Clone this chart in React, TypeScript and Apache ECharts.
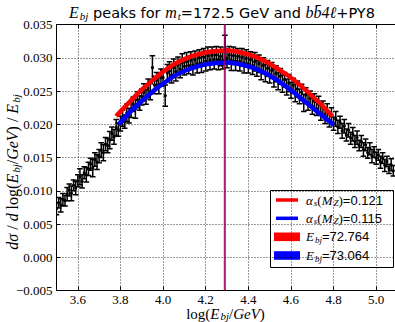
import React, { useEffect, useRef } from "react";
import * as echarts from "echarts";

// bin centres of log(E_bj/GeV)
const binCenters = [
  3.50, 3.51, 3.52, 3.53, 3.54, 3.55, 3.56, 3.57, 3.58, 3.59,
  3.60, 3.61, 3.62, 3.63, 3.64, 3.65, 3.66, 3.67, 3.68, 3.69,
  3.70, 3.71, 3.72, 3.73, 3.74, 3.75, 3.76, 3.77, 3.78, 3.79,
  3.80, 3.81, 3.82, 3.83, 3.84, 3.85, 3.86, 3.87, 3.88, 3.89,
  3.90, 3.91, 3.92, 3.93, 3.94, 3.95, 3.96, 3.97, 3.98, 3.99,
  4.00, 4.01, 4.02, 4.03, 4.04, 4.05, 4.06, 4.07, 4.08, 4.09,
  4.10, 4.11, 4.12, 4.13, 4.14, 4.15, 4.16, 4.17, 4.18, 4.19,
  4.20, 4.21, 4.22, 4.23, 4.24, 4.25, 4.26, 4.27, 4.28, 4.29,
  4.30, 4.31, 4.32, 4.33, 4.34, 4.35, 4.36, 4.37, 4.38, 4.39,
  4.40, 4.41, 4.42, 4.43, 4.44, 4.45, 4.46, 4.47, 4.48, 4.49,
  4.50, 4.51, 4.52, 4.53, 4.54, 4.55, 4.56, 4.57, 4.58, 4.59,
  4.60, 4.61, 4.62, 4.63, 4.64, 4.65, 4.66, 4.67, 4.68, 4.69,
  4.70, 4.71, 4.72, 4.73, 4.74, 4.75, 4.76, 4.77, 4.78, 4.79,
  4.80, 4.81, 4.82, 4.83, 4.84, 4.85, 4.86, 4.87, 4.88, 4.89,
  4.90, 4.91, 4.92, 4.93, 4.94, 4.95, 4.96, 4.97, 4.98, 4.99,
  5.00, 5.01, 5.02, 5.03, 5.04, 5.05, 5.06, 5.07, 5.08,
];

// dσ/dlog(E_bj/GeV)/E_bj
const xsecValues = [
  0.0073, 0.0082, 0.0078, 0.0087, 0.0085, 0.0095, 0.0101, 0.0096, 0.0108, 0.0104,
  0.0115, 0.0121, 0.0114, 0.0127, 0.0124, 0.0133, 0.0140, 0.0134, 0.0147, 0.0143,
  0.0152, 0.0161, 0.0157, 0.0170, 0.0168, 0.0176, 0.0186, 0.0181, 0.0195, 0.0192,
  0.0201, 0.0209, 0.0204, 0.0217, 0.0213, 0.0222, 0.0230, 0.0223, 0.0237, 0.0232,
  0.0241, 0.0248, 0.0241, 0.0254, 0.0249, 0.0285, 0.0259, 0.0266, 0.0260, 0.0270,
  0.0270, 0.0243, 0.0277, 0.0280, 0.0274, 0.0285, 0.0279, 0.0289, 0.0283, 0.0292,
  0.0287, 0.0294, 0.0288, 0.0296, 0.0289, 0.0297, 0.0291, 0.0300, 0.0292, 0.0301,
  0.0295, 0.0303, 0.0296, 0.0304, 0.0297, 0.0304, 0.0297, 0.0302, 0.0296, 0.0315,
  0.0299, 0.0304, 0.0296, 0.0303, 0.0295, 0.0302, 0.0294, 0.0301, 0.0292, 0.0299,
  0.0291, 0.0297, 0.0288, 0.0294, 0.0284, 0.0291, 0.0281, 0.0288, 0.0277, 0.0284,
  0.0275, 0.0281, 0.0270, 0.0276, 0.0265, 0.0272, 0.0261, 0.0267, 0.0256, 0.0262,
  0.0251, 0.0258, 0.0247, 0.0253, 0.0242, 0.0248, 0.0232, 0.0244, 0.0233, 0.0239,
  0.0227, 0.0235, 0.0223, 0.0230, 0.0217, 0.0225, 0.0212, 0.0219, 0.0206, 0.0214,
  0.0201, 0.0208, 0.0196, 0.0203, 0.0190, 0.0197, 0.0184, 0.0191, 0.0179, 0.0185,
  0.0174, 0.0180, 0.0168, 0.0174, 0.0162, 0.0169, 0.0157, 0.0163, 0.0152, 0.0158,
  0.0149, 0.0154, 0.0143, 0.0149, 0.0138, 0.0144, 0.0133, 0.0139, 0.0130,
];

const xsecErrors = [
  0.0009, 0.0008, 0.0010, 0.0009, 0.0008, 0.0010, 0.0009, 0.0011, 0.0008, 0.0010,
  0.0009, 0.0012, 0.0010, 0.0009, 0.0011, 0.0010, 0.0009, 0.0013, 0.0010, 0.0011,
  0.0010, 0.0011, 0.0012, 0.0010, 0.0011, 0.0013, 0.0010, 0.0011, 0.0012, 0.0010,
  0.0011, 0.0012, 0.0010, 0.0013, 0.0011, 0.0012, 0.0011, 0.0014, 0.0012, 0.0011,
  0.0012, 0.0013, 0.0011, 0.0014, 0.0012, 0.0018, 0.0013, 0.0012, 0.0014, 0.0013,
  0.0012, 0.0016, 0.0013, 0.0014, 0.0012, 0.0013, 0.0014, 0.0012, 0.0013, 0.0014,
  0.0013, 0.0014, 0.0012, 0.0013, 0.0015, 0.0013, 0.0014, 0.0012, 0.0014, 0.0013,
  0.0015, 0.0013, 0.0014, 0.0012, 0.0014, 0.0013, 0.0015, 0.0014, 0.0013, 0.0019,
  0.0014, 0.0013, 0.0015, 0.0013, 0.0014, 0.0012, 0.0014, 0.0013, 0.0015, 0.0013,
  0.0014, 0.0012, 0.0013, 0.0014, 0.0012, 0.0013, 0.0014, 0.0012, 0.0013, 0.0012,
  0.0013, 0.0012, 0.0014, 0.0012, 0.0013, 0.0012, 0.0013, 0.0011, 0.0012, 0.0013,
  0.0012, 0.0011, 0.0013, 0.0012, 0.0011, 0.0012, 0.0013, 0.0011, 0.0012, 0.0011,
  0.0012, 0.0011, 0.0010, 0.0012, 0.0011, 0.0010, 0.0011, 0.0012, 0.0010, 0.0011,
  0.0010, 0.0011, 0.0010, 0.0009, 0.0011, 0.0010, 0.0009, 0.0010, 0.0009, 0.0010,
  0.0009, 0.0010, 0.0008, 0.0009, 0.0010, 0.0009, 0.0008, 0.0009, 0.0010, 0.0008,
  0.0009, 0.0008, 0.0009, 0.0008, 0.0009, 0.0008, 0.0007, 0.0009, 0.0008,
];

// fit with alpha_s(M_Z)=0.121
const fitRedX = [3.78, 3.80, 3.85, 3.90, 3.95, 4.00, 4.05, 4.10, 4.15, 4.20, 4.25, 4.30, 4.35, 4.40, 4.45, 4.50, 4.55, 4.60, 4.65, 4.70, 4.75, 4.795];
const fitRedY = [0.0212, 0.0219, 0.0236, 0.0252, 0.0266, 0.0279, 0.0290, 0.0298, 0.0304, 0.0308, 0.0310, 0.0311, 0.0309, 0.0305, 0.0299, 0.0291, 0.0281, 0.0270, 0.0257, 0.0242, 0.0227, 0.0212];
// fit with alpha_s(M_Z)=0.115
const fitBlueX = [3.79, 3.80, 3.85, 3.90, 3.95, 4.00, 4.05, 4.10, 4.15, 4.20, 4.25, 4.30, 4.35, 4.40, 4.45, 4.50, 4.55, 4.60, 4.65, 4.70, 4.75, 4.80];
const fitBlueY = [0.0200, 0.0203, 0.0220, 0.0235, 0.0249, 0.0261, 0.0272, 0.0280, 0.0286, 0.0290, 0.0292, 0.0293, 0.0291, 0.0287, 0.0281, 0.0273, 0.0263, 0.0251, 0.0238, 0.0225, 0.0212, 0.0199];

// peak positions E_bj (GeV)
const peakRedE = 72.764;
const peakBlueE = 73.064;

const xTickValues = [3.6, 3.8, 4.0, 4.2, 4.4, 4.6, 4.8, 5.0];

const RED = "#ff0000";
const BLUE = "#0000ff";
const SERIF = "Liberation Serif";
const SANS = "Liberation Sans";

const richStyles = (size: number, lh: number, sans: string = SANS, sansSize: number = size) => ({
  m: { fontFamily: SERIF, fontStyle: "italic", fontSize: size, lineHeight: lh, fill: "#000" },
  r: { fontFamily: SERIF, fontSize: size, lineHeight: lh, fill: "#000" },
  sub: { fontFamily: SERIF, fontStyle: "italic", fontSize: Math.round(size * 0.7), lineHeight: Math.round(size * 0.7), verticalAlign: "bottom", padding: [0, 0, 0, 1], fill: "#000" },
  n: { fontFamily: sans, fontSize: sansSize, lineHeight: lh, fill: "#000" },
});

export default function App() {
  const ref = useRef<HTMLDivElement>(null);
  useEffect(() => {
    document.body.style.margin = "0";
    const chart = echarts.init(ref.current!, undefined, { renderer: "svg" });
    const points = binCenters.map((x, i) => [x, xsecValues[i], xsecErrors[i]]);
    const xRed = Math.log(peakRedE);
    const xBlue = Math.log(peakBlueE);

    const legendX = 270;
    const legendY = 190;
    const legendItems = [
      { kind: "line", color: RED, text: "{m|α}{sub|s}{r|(}{m|M}{sub|Z}{r|)}{n|=0.121}" },
      { kind: "line", color: BLUE, text: "{m|α}{sub|s}{r|(}{m|M}{sub|Z}{r|)}{n|=0.115}" },
      { kind: "rect", color: RED, text: "{m|E}{sub|bj}{n|=72.764}" },
      { kind: "rect", color: BLUE, text: "{m|E}{sub|bj}{n|=73.064}" },
    ];
    const rowY = [200, 218.3, 236.8, 255.5];
    const legendChildren: any[] = [
      {
        type: "rect",
        shape: { x: legendX + 0.5, y: legendY + 0.5, width: 123, height: 77 },
        style: { fill: "#fff", stroke: "#000", lineWidth: 1 },
      },
    ];
    legendItems.forEach((it, i) => {
      if (it.kind === "line") {
        legendChildren.push({
          type: "line",
          shape: { x1: 276, y1: rowY[i], x2: 298, y2: rowY[i] },
          style: { stroke: it.color, lineWidth: 3.5 },
        });
      } else {
        legendChildren.push({
          type: "rect",
          shape: { x: 274, y: rowY[i] - 4.3, width: 26, height: 8.6 },
          style: { fill: it.color },
        });
      }
      legendChildren.push({
        type: "text",
        style: {
          text: it.text,
          x: 306,
          y: rowY[i],
          align: "left",
          verticalAlign: "middle",
          rich: richStyles(13, 15),
        },
      });
    });

    chart.setOption({
      animation: false,
      grid: { left: 56.5, right: 0, top: 24.5, bottom: 31.5 },
      xAxis: [
        {
          type: "value",
          min: 3.5,
          max: 5.088,
          axisLine: { onZero: false, lineStyle: { color: "#000", width: 1 } },
          axisTick: { show: true, inside: true, length: 4, customValues: xTickValues, lineStyle: { color: "#000" } },
          axisLabel: {
            customValues: xTickValues,
            formatter: (v: number) => v.toFixed(1),
            color: "#000",
            fontFamily: SERIF,
            fontSize: 13,
            margin: 2,
            lineHeight: 13,
          },
          splitLine: { show: true, lineStyle: { color: "#000", type: [1, 2], width: 0.8 } },
        },
        {
          type: "value",
          position: "top",
          min: 3.5,
          max: 5.088,
          axisLine: { onZero: false, lineStyle: { color: "#000", width: 1 } },
          axisTick: { show: true, inside: true, length: 4, customValues: xTickValues, lineStyle: { color: "#000" } },
          axisLabel: { show: false },
          splitLine: { show: false },
        },
      ],
      yAxis: {
        type: "value",
        min: -0.005,
        max: 0.035,
        interval: 0.005,
        axisLine: { show: true, onZero: false, lineStyle: { color: "#000", width: 1 } },
        axisTick: { show: true, inside: true, length: 4, lineStyle: { color: "#000" } },
        axisLabel: {
          formatter: (v: number) => (v < -1e-9 ? "\u2212" : "") + Math.abs(v).toFixed(3),
          color: "#000",
          fontFamily: SERIF,
          fontSize: 13,
          margin: 4,
        },
        splitLine: { show: true, lineStyle: { color: "#000", type: [1, 2], width: 0.8 } },
      },
      series: [
        {
          type: "custom",
          clip: true,
          data: points,
          encode: { x: 0, y: 1 },
          z: 2,
          renderItem: (_params: any, api: any) => {
            const x = api.value(0);
            const y = api.value(1);
            const e = api.value(2);
            const top = api.coord([x, y + e]);
            const bot = api.coord([x, y - e]);
            const c = api.coord([x, y]);
            const cw = 2.8;
            const st = { stroke: "#000", lineWidth: 1.5 };
            return {
              type: "group",
              children: [
                { type: "line", shape: { x1: top[0], y1: top[1], x2: bot[0], y2: bot[1] }, style: st },
                { type: "line", shape: { x1: top[0] - cw, y1: top[1], x2: top[0] + cw, y2: top[1] }, style: st },
                { type: "line", shape: { x1: bot[0] - cw, y1: bot[1], x2: bot[0] + cw, y2: bot[1] }, style: st },
                { type: "circle", shape: { cx: c[0], cy: c[1], r: 1.6 }, style: { fill: "#000" } },
              ],
            };
          },
        },
        {
          type: "line",
          data: fitRedX.map((x, i) => [x, fitRedY[i]]),
          showSymbol: false,
          smooth: 0.3,
          lineStyle: { color: RED, width: 4.5 },
          z: 3,
        },
        {
          type: "line",
          data: fitBlueX.map((x, i) => [x, fitBlueY[i]]),
          showSymbol: false,
          smooth: 0.3,
          lineStyle: { color: BLUE, width: 4.5 },
          z: 3,
        },
        {
          type: "line",
          data: [[xRed, -0.005], [xRed, 0.035]],
          showSymbol: false,
          lineStyle: { color: RED, width: 1 },
          z: 4,
        },
        {
          type: "line",
          data: [[xBlue, -0.005], [xBlue, 0.035]],
          showSymbol: false,
          lineStyle: { color: BLUE, width: 1 },
          z: 4,
        },
      ],
      graphic: [
        {
          type: "text",
          z: 100,
          style: {
            text: "{m|E}{sub|bj}{n| peaks for }{m|m}{sub|t}{n|=172.5 GeV and }{m|bb\u03044\u2113}{n|+PY8}",
            x: 222,
            y: 12.5,
            align: "center",
            verticalAlign: "middle",
            rich: richStyles(16, 18, "DejaVu Sans", 14.5),
          },
        },
        {
          type: "text",
          z: 100,
          style: {
            text: "{r|log(}{m|E}{sub|bj}{r|/}{m|GeV}{r|)}",
            x: 225.5,
            y: 314,
            align: "center",
            verticalAlign: "middle",
            rich: richStyles(15, 14),
          },
        },
        {
          type: "text",
          z: 100,
          x: 12,
          y: 172,
          rotation: Math.PI / 2,
          style: {
            text: "{m|dσ}{r| / }{m|d}{r| log(}{m|E}{sub|bj}{r|/}{m|GeV}{r|) / }{m|E}{sub|bj}",
            x: 0,
            y: 0,
            align: "center",
            verticalAlign: "middle",
            rich: richStyles(16, 18),
          },
        },
        { type: "group", z: 100, children: legendChildren },
      ],
    });
    return () => chart.dispose();
  }, []);
  return <div ref={ref} style={{ width: 395, height: 322 }} />;
}
